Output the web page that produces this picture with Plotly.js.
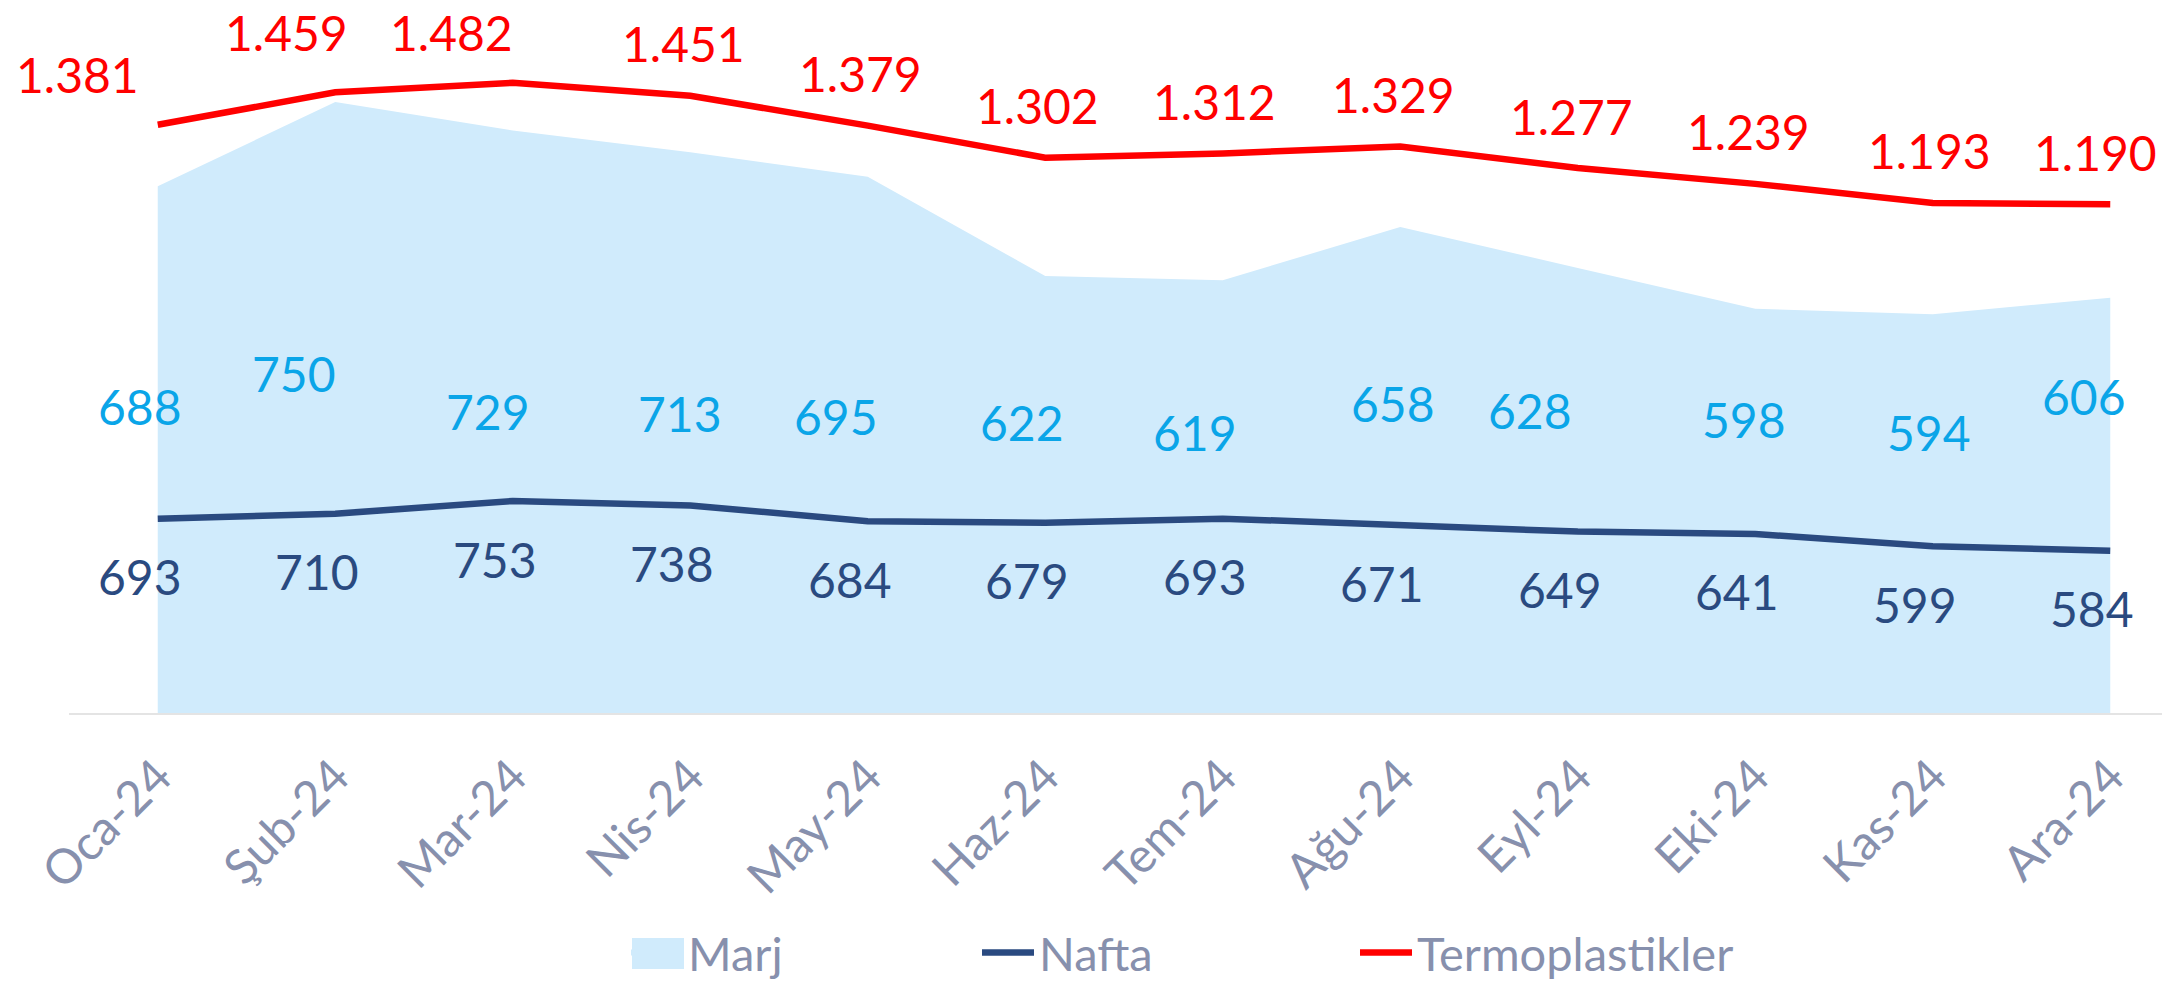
<!DOCTYPE html>
<html>
<head>
<meta charset="utf-8">
<script src="https://cdn.plot.ly/plotly-3.0.1.min.js"></script>
<style>html,body{margin:0;padding:0;background:#fff;}#chart{width:2162px;height:984px;}</style>
</head>
<body>
<div id="chart"></div>
<script>
// ---- data ----
const months = ["Oca-24","Şub-24","Mar-24","Nis-24","May-24","Haz-24","Tem-24","Ağu-24","Eyl-24","Eki-24","Kas-24","Ara-24"];
const marj = [688, 750, 729, 713, 695, 622, 619, 658, 628, 598, 594, 606];
const nafta = [693, 710, 753, 738, 684, 679, 693, 671, 649, 641, 599, 584];
const termoplastikler = [1381, 1459, 1482, 1451, 1379, 1302, 1312, 1329, 1277, 1239, 1193, 1190];

// ---- label placement (pixels) ----
const termoDx = [-80, -49, -61, -7, -7, -8, -8, -7, -6, -7, -3, -15];
const termoDy = [50, 60, 50, 52, 52, 52, 52, 52, 52, 52, 53, 52];
const marjDx = [-18, -41, -25, -10, -32, -23, -28, -7, -48, -11, -4, -26];
const marjYpx = [407, 374, 411, 414, 416, 423, 432, 403, 410, 419, 432, 396];

const FONT = "Lato, 'DejaVu Sans', sans-serif";
const PLOT_L = 69, PLOT_W = 2093, PLOT_H = 713;
const C_RED = "#FF0000", C_NAVY = "#2A4A80", C_FILL = "#D0EBFC", C_MARJ = "#0AA5E8", C_GRAY = "#8790AD";

function fmt(v){ return String(v).replace(/\B(?=(\d{3})+(?!\d))/g, "."); }
function px2x(px){ return (px - PLOT_L) / PLOT_W; }
function py2y(py){ return (PLOT_H - py) / PLOT_H; }

const traces = [
  {name:"Marj", x:months, y:marj, type:"scatter", mode:"none", fill:"tozeroy",
   fillcolor:C_FILL, yaxis:"y", legend:"legend", hoverinfo:"skip"},
  {name:"Nafta", x:months, y:nafta, type:"scatter", mode:"lines",
   line:{color:C_NAVY, width:6.5}, yaxis:"y2", legend:"legend2"},
  {name:"Termoplastikler", x:months, y:termoplastikler, type:"scatter", mode:"lines",
   line:{color:C_RED, width:6.5}, yaxis:"y3", legend:"legend3"}
];

const annotations = [];
months.forEach((m,i)=>{
  annotations.push({x:m, y:termoplastikler[i], xref:"x", yref:"y3", text:fmt(termoplastikler[i]),
    showarrow:false, xanchor:"center", yanchor:"middle", xshift:termoDx[i], yshift:termoDy[i],
    font:{family:FONT, size:48, color:C_RED}});
  annotations.push({x:m, y:nafta[i], xref:"x", yref:"y2", text:fmt(nafta[i]),
    showarrow:false, xanchor:"center", yanchor:"middle", xshift:-18, yshift:-58,
    font:{family:FONT, size:48, color:C_NAVY}});
  annotations.push({x:m, y:py2y(marjYpx[i]), xref:"x", yref:"paper", text:fmt(marj[i]),
    showarrow:false, xanchor:"center", yanchor:"middle", xshift:marjDx[i],
    font:{family:FONT, size:48, color:C_MARJ}});
});

// legend swatch block for the area series (sits under the legend's own symbol)
const shapes = [
  {type:"rect", xref:"paper", yref:"paper", x0:px2x(632), x1:px2x(684), y0:py2y(969), y1:py2y(938),
   fillcolor:C_FILL, line:{width:0}, layer:"above"}
];

const legBase = {orientation:"h", xref:"container", yref:"container", yanchor:"middle", xanchor:"left",
  y:(984-953)/984, bgcolor:"rgba(0,0,0,0)", borderwidth:0, itemwidth:52,
  font:{family:FONT, size:47, color:C_GRAY}};

const layout = {
  width:2162, height:984,
  margin:{l:PLOT_L, r:0, t:0, b:984-PLOT_H, pad:0},
  paper_bgcolor:"#fff", plot_bgcolor:"#fff",
  showlegend:true,
  font:{family:FONT},
  xaxis:{type:"category", range:[-0.5, -0.5 + PLOT_W/177.5], showgrid:false, zeroline:false,
    showline:true, linecolor:"#E4E4E4", linewidth:2, ticks:"", tickangle:-45,
    ticklabelstandoff:14, tickfont:{family:FONT, size:48, color:C_GRAY}},
  yaxis:{range:[300.7, 825], visible:false, fixedrange:true},
  yaxis2:{range:[32, 2457], visible:false, overlaying:"y"},
  yaxis3:{range:[-33, 1681], visible:false, overlaying:"y"},
  legend:Object.assign({}, legBase, {x:626/2162}),
  legend2:Object.assign({}, legBase, {x:977/2162}),
  legend3:Object.assign({}, legBase, {x:1355/2162}),
  shapes:shapes,
  annotations:annotations
};

Plotly.newPlot("chart", traces, layout, {staticPlot:true, displayModeBar:false});
</script>
</body>
</html>
